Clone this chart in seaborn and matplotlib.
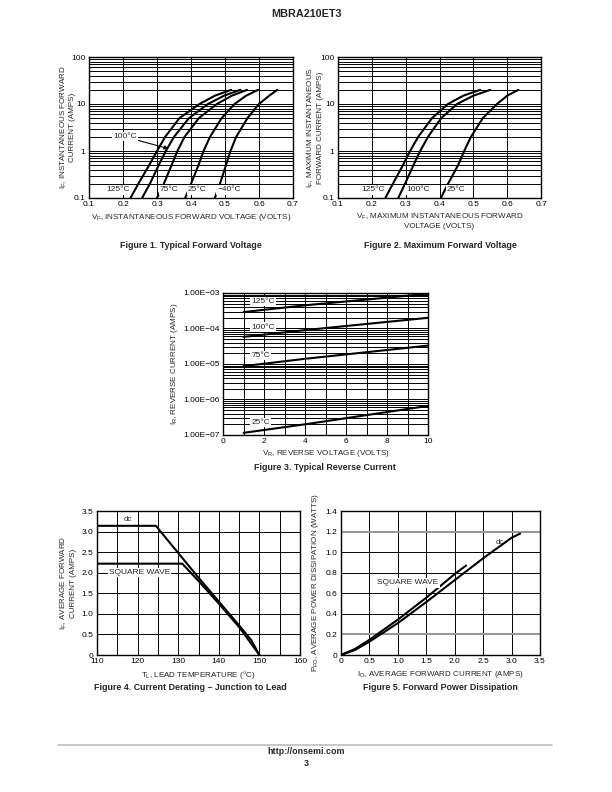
import matplotlib
matplotlib.use("Agg")
import matplotlib.pyplot as plt
from matplotlib.ticker import FixedLocator, FixedFormatter, LogLocator, NullFormatter, MultipleLocator
import pandas as pd
import seaborn as sns

# Figure 1 - typical forward voltage (V) read at these forward currents (A)
fwd_current = [0.1, 0.2, 0.5, 1, 2, 5, 10, 15, 20]
typ_vf_125 = [0.222, 0.245, 0.277, 0.300, 0.324, 0.366, 0.425, 0.470, 0.518]
typ_vf_100 = [0.256, 0.279, 0.305, 0.326, 0.350, 0.394, 0.450, 0.497, 0.545]
typ_vf_75 = [0.300, 0.320, 0.343, 0.360, 0.381, 0.423, 0.476, 0.520, 0.565]
typ_vf_25 = [0.383, 0.400, 0.422, 0.437, 0.456, 0.490, 0.528, 0.562, 0.597]
typ_vf_m40 = [0.470, 0.485, 0.503, 0.516, 0.533, 0.566, 0.600, 0.630, 0.654]

# Figure 2 - maximum forward voltage
max_vf_125 = [0.240, 0.262, 0.292, 0.313, 0.337, 0.378, 0.425, 0.470, 0.520]
max_vf_100 = [0.278, 0.298, 0.323, 0.343, 0.366, 0.405, 0.452, 0.500, 0.550]
max_vf_25 = [0.404, 0.425, 0.455, 0.473, 0.493, 0.528, 0.570, 0.600, 0.633]

# Figure 3 - typical reverse current (A) vs reverse voltage (V)
rev_voltage = [1, 4, 10]
ir_125 = [2.9e-4, 4.5e-4, 9.5e-4]
ir_100 = [5.8e-5, 9.0e-5, 2.0e-4]
ir_75 = [8.7e-6, 1.4e-5, 3.3e-5]
ir_25 = [1.15e-7, 2.0e-7, 6.6e-7]

# Figure 4 - current derating
lead_temp_dc = [110, 124.5, 130, 135, 140, 145, 148, 150]
if_avg_dc = [3.14, 3.14, 2.48, 1.88, 1.30, 0.72, 0.36, 0.0]
lead_temp_sq = [110, 131, 135, 140, 145, 150]
if_avg_sq = [2.22, 2.22, 1.80, 1.25, 0.68, 0.0]

# Figure 5 - forward power dissipation
io_dc = [0, 0.25, 0.5, 1.0, 1.5, 2.0, 2.5, 3.0, 3.15]
pfo_dc = [0, 0.05, 0.13, 0.31, 0.515, 0.728, 0.94, 1.14, 1.18]
io_sq = [0, 0.25, 0.5, 1.0, 1.5, 2.0, 2.2]
pfo_sq = [0, 0.06, 0.148, 0.344, 0.557, 0.787, 0.87]

# tick labels
vf_ticks = [0.1, 0.2, 0.3, 0.4, 0.5, 0.6, 0.7]
vf_labels = ['0.1', '0.2', '0.3', '0.4', '0.5', '0.6', '0.7']
if_ticks = [0.1, 1, 10, 100]
if_labels = ['0.1', '1', '10', '100']
ir_ticks = [1e-7, 1e-6, 1e-5, 1e-4, 1e-3]
ir_labels = ['1.00E\u221207', '1.00E\u221206', '1.00E\u221205', '1.00E\u221204', '1.00E\u221203']
vr_ticks = [0, 2, 4, 6, 8, 10]
temp_ticks = [110, 120, 130, 140, 150, 160]
iavg_ticks = [0, 0.5, 1.0, 1.5, 2.0, 2.5, 3.0, 3.5]
iavg_labels = ['0', '0.5', '1.0', '1.5', '2.0', '2.5', '3.0', '3.5']
io_ticks = [0, 0.5, 1.0, 1.5, 2.0, 2.5, 3.0, 3.5]
io_labels = ['0', '0.5', '1.0', '1.5', '2.0', '2.5', '3.0', '3.5']
pfo_ticks = [0, 0.2, 0.4, 0.6, 0.8, 1.0, 1.2, 1.4]
pfo_labels = ['0', '0.2', '0.4', '0.6', '0.8', '1.0', '1.2', '1.4']

sns.set_theme(style="white")
plt.rcParams['font.family'] = ['Liberation Sans', 'DejaVu Sans']
plt.rcParams['mathtext.fontset'] = 'custom'
plt.rcParams['mathtext.rm'] = 'Liberation Sans'
plt.rcParams['mathtext.it'] = 'Liberation Sans:italic'
plt.rcParams['mathtext.bf'] = 'Liberation Sans:bold'

fig = plt.figure(figsize=(6.12, 7.92), dpi=100)
W, H = 612, 792


def place(x0, y0, x1, y1):
    return fig.add_axes([x0 / W, 1 - y1 / H, (x1 - x0) / W, (y1 - y0) / H])


def frame(curves, xname, yname):
    rows = []
    for name, xs, ys in curves:
        for a, b in zip(xs, ys):
            rows.append((name, a, b))
    return pd.DataFrame(rows, columns=['curve', xname, yname])


def style(ax):
    ax.tick_params(which='both', length=0, labelsize=6, pad=2.5, colors='black')
    for s in ax.spines.values():
        s.set_visible(True)
        s.set_color('black')
        s.set_linewidth(1.0)
    ax.set_axisbelow(True)
    ax.grid(True, which='both', color='black', lw=0.7)


def draw(ax, df, x, y):
    sns.lineplot(data=df, x=x, y=y, units='curve', estimator=None, sort=False,
                 color='black', lw=1.5, legend=False, ax=ax)


box = dict(facecolor='white', edgecolor='none', pad=0.8)
lab_fs = 5.8

# ---------- Figure 1
ax1 = place(89, 57, 293, 198)
ax1.set_yscale('log')
df1 = frame([('125', typ_vf_125, fwd_current), ('100', typ_vf_100, fwd_current),
             ('75', typ_vf_75, fwd_current), ('25', typ_vf_25, fwd_current),
             ('-40', typ_vf_m40, fwd_current)], 'vf', 'if')
draw(ax1, df1, 'vf', 'if')
ax1.set_xlim(0.1, 0.7)
ax1.set_ylim(0.1, 100)
ax1.xaxis.set_major_locator(FixedLocator(vf_ticks))
ax1.xaxis.set_major_formatter(FixedFormatter(vf_labels))
ax1.yaxis.set_major_locator(FixedLocator(if_ticks))
ax1.yaxis.set_major_formatter(FixedFormatter(if_labels))
ax1.yaxis.set_minor_locator(LogLocator(base=10, subs=range(2, 10)))
ax1.yaxis.set_minor_formatter(NullFormatter())
style(ax1)
ax1.set_xlabel(r'V$_\mathregular{F}$, INSTANTANEOUS FORWARD VOLTAGE (VOLTS)', fontsize=lab_fs)
ax1.set_ylabel('I$_\\mathregular{F}$, INSTANTANEOUS FORWARD\nCURRENT (AMPS)', fontsize=lab_fs, linespacing=1.1)
ax1.xaxis.set_label_coords(0.5, -0.1)
ax1.yaxis.set_label_coords(-0.062, 0.5)
for txt, xv in [('125\u00b0C', 0.185), ('75\u00b0C', 0.336), ('25\u00b0C', 0.418), ('\u221240\u00b0C', 0.512)]:
    ax1.text(xv, 0.148, txt, fontsize=6, ha='center', va='center', bbox=box)
ax1.annotate('100\u00b0C', xy=(0.334, 1.12), xytext=(0.207, 2.0), fontsize=6, ha='center', va='center',
             bbox=box, arrowprops=dict(arrowstyle='-|>', color='black', lw=0.8, mutation_scale=6,
                                       shrinkA=0, shrinkB=0))

# ---------- Figure 2
ax2 = place(338, 57, 541, 198)
ax2.set_yscale('log')
df2 = frame([('125', max_vf_125, fwd_current), ('100', max_vf_100, fwd_current),
             ('25', max_vf_25, fwd_current)], 'vf', 'if')
draw(ax2, df2, 'vf', 'if')
ax2.set_xlim(0.1, 0.7)
ax2.set_ylim(0.1, 100)
ax2.xaxis.set_major_locator(FixedLocator(vf_ticks))
ax2.xaxis.set_major_formatter(FixedFormatter(vf_labels))
ax2.yaxis.set_major_locator(FixedLocator(if_ticks))
ax2.yaxis.set_major_formatter(FixedFormatter(if_labels))
ax2.yaxis.set_minor_locator(LogLocator(base=10, subs=range(2, 10)))
ax2.yaxis.set_minor_formatter(NullFormatter())
style(ax2)
ax2.set_xlabel('V$_\\mathregular{F}$, MAXIMUM INSTANTANEOUS FORWARD\nVOLTAGE (VOLTS)', fontsize=lab_fs, linespacing=1.1)
ax2.set_ylabel('I$_\\mathregular{F}$, MAXIMUM INSTANTANEOUS\nFORWARD CURRENT (AMPS)', fontsize=lab_fs, linespacing=1.1)
ax2.xaxis.set_label_coords(0.5, -0.1)
ax2.yaxis.set_label_coords(-0.07, 0.5)
for txt, xv in [('125\u00b0C', 0.203), ('100\u00b0C', 0.336), ('25\u00b0C', 0.45)]:
    ax2.text(xv, 0.148, txt, fontsize=6, ha='center', va='center', bbox=box)

# ---------- Figure 3
ax3 = place(223, 293, 428, 435)
ax3.set_yscale('log')
df3 = frame([('125', rev_voltage, ir_125), ('100', rev_voltage, ir_100),
             ('75', rev_voltage, ir_75), ('25', rev_voltage, ir_25)], 'vr', 'ir')
draw(ax3, df3, 'vr', 'ir')
ax3.set_xlim(0, 10)
ax3.set_ylim(1e-7, 1e-3)
ax3.xaxis.set_major_locator(FixedLocator(vr_ticks))
ax3.xaxis.set_minor_locator(MultipleLocator(1))
ax3.yaxis.set_major_locator(FixedLocator(ir_ticks))
ax3.yaxis.set_major_formatter(FixedFormatter(ir_labels))
ax3.yaxis.set_minor_locator(LogLocator(base=10, subs=range(2, 10)))
ax3.yaxis.set_minor_formatter(NullFormatter())
style(ax3)
ax3.set_xlabel(r'V$_\mathregular{R}$, REVERSE VOLTAGE (VOLTS)', fontsize=lab_fs)
ax3.set_ylabel(r'I$_\mathregular{R}$, REVERSE CURRENT (AMPS)', fontsize=lab_fs)
ax3.xaxis.set_label_coords(0.5, -0.09)
ax3.yaxis.set_label_coords(-0.21, 0.5)
for txt, xv, yv in [('125\u00b0C', 1.95, 5.7e-4), ('100\u00b0C', 1.95, 1.1e-4),
                    ('75\u00b0C', 1.85, 1.7e-5), ('25\u00b0C', 1.85, 2.3e-7)]:
    ax3.text(xv, yv, txt, fontsize=6, ha='center', va='center', bbox=box)

# ---------- Figure 4
ax4 = place(97, 511, 300, 655)
df4 = frame([('dc', lead_temp_dc, if_avg_dc), ('sq', lead_temp_sq, if_avg_sq)], 'tl', 'iavg')
draw(ax4, df4, 'tl', 'iavg')
ax4.set_xlim(110, 160)
ax4.set_ylim(0, 3.5)
ax4.xaxis.set_major_locator(FixedLocator(temp_ticks))
ax4.xaxis.set_minor_locator(MultipleLocator(5))
ax4.yaxis.set_major_locator(FixedLocator(iavg_ticks))
ax4.yaxis.set_major_formatter(FixedFormatter(iavg_labels))
style(ax4)
ax4.set_xlabel('T$_\\mathregular{L}$, LEAD TEMPERATURE (\u00b0C)', fontsize=lab_fs)
ax4.set_ylabel('I$_\\mathregular{F}$, AVERAGE FORWARD\nCURRENT (AMPS)', fontsize=lab_fs, linespacing=1.1)
ax4.xaxis.set_label_coords(0.5, -0.1)
ax4.yaxis.set_label_coords(-0.1, 0.5)
ax4.text(117.5, 3.3, 'dc', fontsize=5.5, ha='center', va='center')
ax4.text(120.5, 2.0, 'SQUARE WAVE', fontsize=6, ha='center', va='center', bbox=box)

# ---------- Figure 5
ax5 = place(341, 511, 540, 655)
df5 = frame([('dc', io_dc, pfo_dc), ('sq', io_sq, pfo_sq)], 'io', 'pfo')
draw(ax5, df5, 'io', 'pfo')
ax5.set_xlim(0, 3.5)
ax5.set_ylim(0, 1.4)
ax5.xaxis.set_major_locator(FixedLocator(io_ticks))
ax5.xaxis.set_major_formatter(FixedFormatter(io_labels))
ax5.yaxis.set_major_locator(FixedLocator(pfo_ticks))
ax5.yaxis.set_major_formatter(FixedFormatter(pfo_labels))
style(ax5)
for yv in (0.2, 1.2):
    ax5.axhline(yv, color='#9a9a9a', lw=1.4, zorder=0.6)
ax5.set_xlabel(r'I$_\mathregular{O}$, AVERAGE FORWARD CURRENT (AMPS)', fontsize=lab_fs)
ax5.set_ylabel(r'P$_\mathregular{FO}$, AVERAGE POWER DISSIPATION (WATTS)', fontsize=lab_fs)
ax5.xaxis.set_label_coords(0.5, -0.1)
ax5.yaxis.set_label_coords(-0.1, 0.5)
ax5.text(2.8, 1.09, 'dc', fontsize=5.5, ha='center', va='center')
ax5.text(1.18, 0.70, 'SQUARE WAVE', fontsize=6, ha='center', va='center', bbox=box)


# ---------- page text
def ptext(x, y, s, size, weight='bold'):
    fig.text(x / W, 1 - y / H, s, fontsize=size, fontweight=weight, ha='center', va='center')


ptext(306, 14, 'MBRA210ET3', 7.8)
ptext(191, 245, 'Figure 1. Typical Forward Voltage', 6.4)
ptext(440, 245, 'Figure 2. Maximum Forward Voltage', 6.4)
ptext(325, 467, 'Figure 3. Typical Reverse Current', 6.4)
ptext(190, 688, 'Figure 4. Current Derating \u2013 Junction to Lead', 6.4)
ptext(440, 688, 'Figure 5. Forward Power Dissipation', 6.4)
fig.add_artist(plt.Line2D([58 / W, 552 / W], [1 - 745 / H, 1 - 745 / H], color='#bdbdbd', lw=1.2))
ptext(306, 752, 'http://onsemi.com', 6.4)
ptext(306, 763, '3', 6.4)

fig.savefig('out.png', dpi=100)
